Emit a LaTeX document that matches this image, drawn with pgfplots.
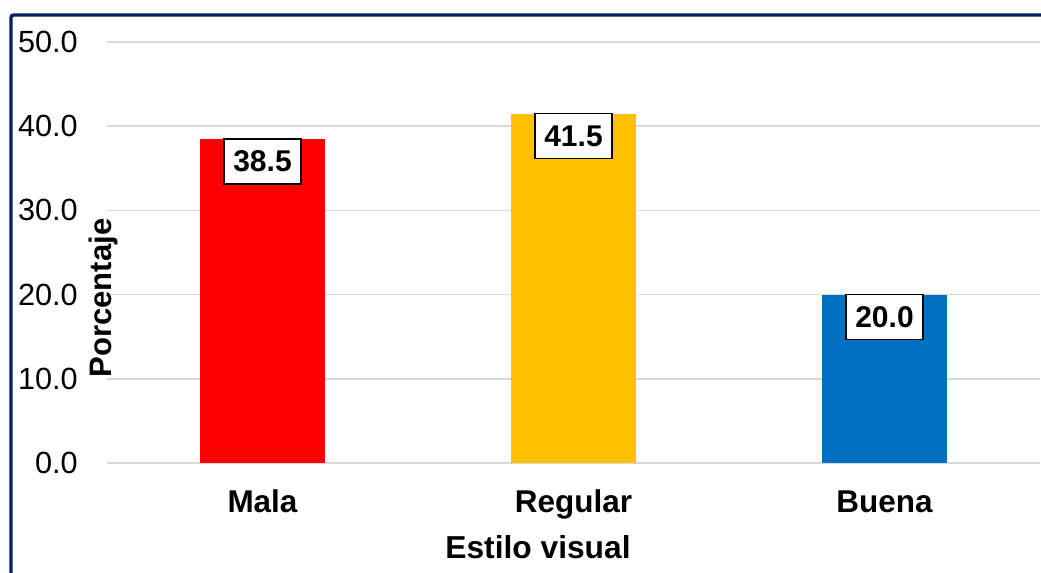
\documentclass[border=0pt]{standalone}
\usepackage{pgfplots}
\pgfplotsset{compat=1.18}
\usepackage{fontspec}
\setmainfont{Liberation Sans}
\definecolor{cRed}{HTML}{FF0000}
\definecolor{cYel}{HTML}{FFC000}
\definecolor{cBlu}{HTML}{0070C0}
\definecolor{frameblue}{HTML}{002060}
\definecolor{gridgray}{HTML}{D9D9D9}
\begin{document}
\begin{tikzpicture}
\useasboundingbox (0,0) rectangle (780.75pt,429pt);
\begin{scope}
\clip (0,0) rectangle (780.75pt,429pt);
\draw[frameblue, line width=2.6pt, rounded corners=2pt] (8.25pt,-40pt) rectangle (820pt,417.75pt);
\end{scope}
\begin{axis}[
  at={(80.25pt,81.75pt)}, anchor=south west,
  scale only axis, width=699.75pt, height=315.75pt,
  xmin=-0.5, xmax=2.5, ymin=0, ymax=50,
  axis line style={draw=none},
  major tick length=0pt,
  tick style={draw=none},
  ytick={0,10,20,30,40,50},
  ymajorgrids, major grid style={gridgray, line width=1.1pt},
  xtick={0,1,2}, xticklabels={Mala,Regular,Buena},
  yticklabel={\pgfmathprintnumber[fixed,fixed zerofill,precision=1]{\tick}},
  /pgf/number format/assume math mode=true,
  yticklabel style={font=\fontsize{23}{27}\selectfont, anchor=east, inner sep=0pt, xshift=-21.75pt},
  xticklabel style={font=\fontsize{23.6}{27}\selectfont\bfseries, anchor=base, inner sep=0pt, yshift=-36.75pt},
  clip=false,
  ybar, bar width=93.75pt, bar shift=0pt,
  nodes near coords={\pgfmathprintnumber[fixed,fixed zerofill,precision=1]{\pgfplotspointmeta}},
  every node near coord/.append style={anchor=north, yshift=0.75pt, fill=white, draw=black, line width=1.4pt,
    font=\fontsize{22.5}{26}\selectfont\bfseries, inner xsep=7pt, minimum height=33.75pt},
]
\addplot[fill=cRed, draw=none] coordinates {(0,38.5)};
\addplot[fill=cYel, draw=none] coordinates {(1,41.5)};
\addplot[fill=cBlu, draw=none] coordinates {(2,20.0)};
\end{axis}
\node[font=\fontsize{23.3}{27}\selectfont\bfseries, rotate=90] at (77.25pt,205.5pt) {Porcentaje};
\node[font=\fontsize{23.8}{27}\selectfont\bfseries] at (403.5pt,18.75pt) {Estilo visual};
\end{tikzpicture}
\end{document}
